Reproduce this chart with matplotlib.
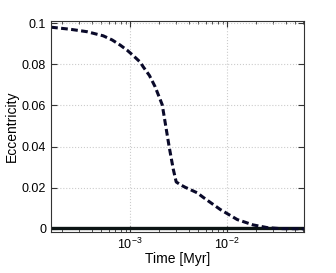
import matplotlib
matplotlib.use('Agg')
import matplotlib.pyplot as plt
import numpy as np

# dashed curve: eccentricity vs time
time_myr = [1.53e-4, 2.40e-4, 3.60e-4, 5.28e-4, 6.52e-4, 7.89e-4, 9.31e-4, 1.07e-3,
            1.27e-3, 1.36e-3, 1.58e-3, 1.81e-3, 2.14e-3, 2.52e-3, 2.78e-3, 2.98e-3,
            3.30e-3, 3.69e-3, 4.91e-3, 5.66e-3, 8.48e-3, 1.27e-2, 1.85e-2, 2.58e-2,
            3.52e-2, 6.22e-2]
ecc = [0.0980, 0.0970, 0.0958, 0.0938, 0.0918, 0.0893, 0.0868, 0.0843,
       0.0810, 0.0788, 0.0745, 0.0690, 0.0603, 0.0400, 0.0290, 0.0228,
       0.0214, 0.0202, 0.0175, 0.0153, 0.0094, 0.0045, 0.0019, 0.0006,
       0.0001, 0.0]
# solid line: second body, ~zero eccentricity
time_flat = [1.5e-4, 6.25e-2]
ecc_flat = [0.0003, 0.0003]

plt.rcParams['font.family'] = ['Liberation Sans', 'DejaVu Sans']
plt.rcParams['mathtext.fontset'] = 'custom'
plt.rcParams['mathtext.rm'] = 'Liberation Sans'
plt.rcParams['mathtext.it'] = 'Liberation Sans'

fig = plt.figure(figsize=(3.36, 2.73), dpi=100)
ax = fig.add_axes([0.152, 0.152, 0.753, 0.771])

ax.plot(time_flat, ecc_flat, color='#0c1414', linewidth=2.4, solid_capstyle='butt')
ax.plot(time_myr, ecc, color='#0a0a2a', linewidth=2.2, dashes=[2.2, 1.1])

ax.set_xscale('log')
ax.set_xlim(1.53e-4, 6.2e-2)
ax.set_ylim(-0.0013, 0.101)
ax.set_yticks([0, 0.02, 0.04, 0.06, 0.08, 0.1])
ax.set_yticklabels(['0', '0.02', '0.04', '0.06', '0.08', '0.1'])
ax.set_xticks([1e-3, 1e-2])

ax.grid(True, which='major', color='#cccccc', linestyle=':', linewidth=0.8)
ax.tick_params(which='both', direction='in', top=True, right=True, labelsize=9, color='#333333')
ax.tick_params(which='major', length=4)
ax.tick_params(which='minor', length=2)
for s in ax.spines.values():
    s.set_linewidth(0.8)
    s.set_color('#333333')

ax.set_xlabel('Time [Myr]', fontsize=10, labelpad=0)
ax.set_ylabel('Eccentricity', fontsize=10, labelpad=2)

fig.savefig('out.png', dpi=100)
